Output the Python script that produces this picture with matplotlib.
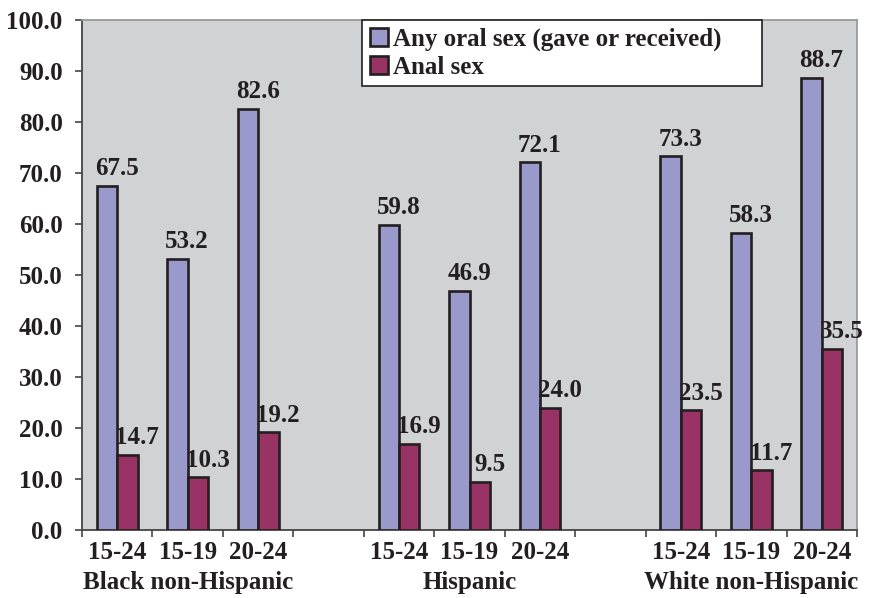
import matplotlib
matplotlib.use("Agg")
import matplotlib.pyplot as plt
import numpy as np
from matplotlib.transforms import blended_transform_factory

groups = ["Black non-Hispanic", "Hispanic", "White non-Hispanic"]
ages = ["15-24", "15-19", "20-24"]
oral_sex = [67.5, 53.2, 82.6, 59.8, 46.9, 72.1, 73.3, 58.3, 88.7]
anal_sex = [14.7, 10.3, 19.2, 16.9, 9.5, 24.0, 23.5, 11.7, 35.5]
series_names = ["Any oral sex (gave or received)", "Anal sex"]
yticks = [0, 10, 20, 30, 40, 50, 60, 70, 80, 90, 100]

plt.rcParams["font.family"] = ["Liberation Serif", "DejaVu Serif"]
plt.rcParams["font.weight"] = "bold"
FS = 18
INK = "#231f20"

fig = plt.figure(figsize=(8.72, 5.98), dpi=100)
ax = fig.add_axes([82 / 872, 68 / 598, (857 - 82) / 872, (530 - 20) / 598])
ax.set_facecolor("#d1d2d4")

# three slots per group, one empty slot between groups
pos = []
for g in range(len(groups)):
    for a in range(len(ages)):
        pos.append(g * 4 + a)
pos = np.array(pos, dtype=float)

w = 0.29
lav = "#9999cc"
mar = "#993366"
ax.bar(pos - w / 2, oral_sex, w, color=lav, edgecolor=INK, linewidth=1.9,
       label=series_names[0], zorder=3)
ax.bar(pos + w / 2, anal_sex, w, color=mar, edgecolor=INK, linewidth=1.9,
       label=series_names[1], zorder=3)

for xs, vals in ((pos - w / 2, oral_sex), (pos + w / 2, anal_sex)):
    for x, v in zip(xs, vals):
        ax.annotate(f"{v:.1f}", (x, v), xytext=(7, 4), textcoords="offset points",
                    ha="center", va="bottom", fontsize=FS, fontweight="bold",
                    color=INK, zorder=4)

ax.set_xlim(-0.5, 10.5)
ax.set_ylim(0, 100)
ax.set_yticks(yticks)
ax.set_yticklabels([f"{v:.1f}" for v in yticks], fontsize=FS, fontweight="bold", color=INK)
ax.tick_params(axis="y", direction="out", length=5, width=1.2, color="#444444", pad=9)

# slot boundaries carry tick marks; slot centres carry the age labels
ax.set_xticks(np.arange(-0.5, 11.0, 1.0))
ax.set_xticklabels([])
ax.tick_params(axis="x", which="major", direction="out", length=5, width=1.2, color="#444444")
ax.set_xticks(pos, minor=True)
ax.set_xticklabels(ages * len(groups), minor=True, fontsize=FS, fontweight="bold", color=INK)
ax.tick_params(axis="x", which="minor", length=0, pad=8)

trans = blended_transform_factory(ax.transData, ax.transAxes)
for g, name in enumerate(groups):
    ax.text(g * 4 + 1, -0.08, name, transform=trans, ha="center", va="top",
            fontsize=FS, fontweight="bold", color=INK)

for side in ("left", "bottom"):
    ax.spines[side].set_color("#444444")
    ax.spines[side].set_linewidth(1.3)
for side in ("top", "right"):
    ax.spines[side].set_color("#9a9a9a")
    ax.spines[side].set_linewidth(1.3)

leg = ax.legend(loc="upper left", mode="expand",
                bbox_to_anchor=((362 - 82) / 775, 0.0, 400 / 775, 1.0),
                fontsize=FS, frameon=True, fancybox=False, framealpha=1,
                edgecolor=INK, handlelength=0.75, handleheight=0.75,
                handletextpad=0.2, borderpad=0.3, labelspacing=0.2,
                borderaxespad=0)
leg.get_frame().set_linewidth(1.2)
for t in leg.get_texts():
    t.set_color(INK)
    t.set_fontweight("bold")

fig.savefig("out.png", dpi=100, facecolor="white")
